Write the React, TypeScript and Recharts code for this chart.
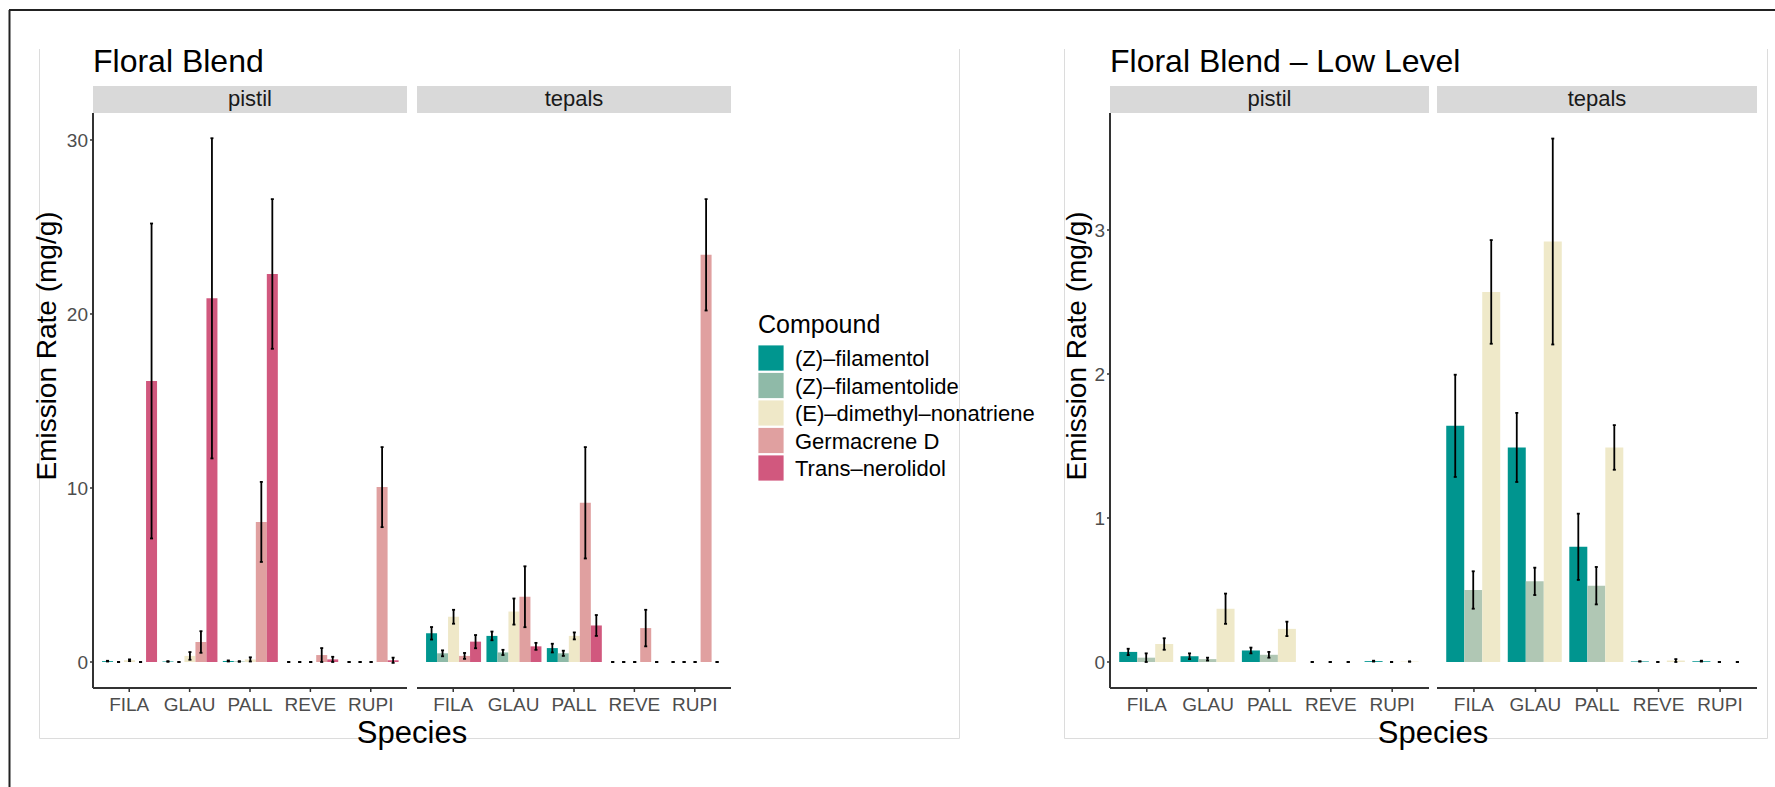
import { BarChart, Bar, XAxis, YAxis, ErrorBar } from 'recharts';

const SPECIES = ['FILA', 'GLAU', 'PALL', 'REVE', 'RUPI'];
const COMPOUNDS = [
  '(Z)–filamentol',
  '(Z)–filamentolide',
  '(E)–dimethyl–nonatriene',
  'Germacrene D',
  'Trans–nerolidol',
];
const BLEND_COLORS = ['#00968f', '#8fbaa8', '#efe8c8', '#e0a0a0', '#d1587e'];
const LOW_COLORS = ['#00958f', '#b0c7b4', '#efe9c9'];

// rows = compound, columns = species (FILA, GLAU, PALL, REVE, RUPI)
const blendPistilMean = [
  [0.05, 0.03, 0.06, 0, 0],
  [0, 0, 0.03, 0, 0],
  [0.1, 0.35, 0.15, 0, 0],
  [0, 1.15, 8.05, 0.4, 10.05],
  [16.15, 20.9, 22.3, 0.15, 0.1],
];
const blendPistilSe = [
  [0.02, 0.02, 0.03, 0, 0],
  [0, 0, 0.02, 0, 0],
  [0.05, 0.22, 0.12, 0, 0],
  [0, 0.62, 2.3, 0.4, 2.3],
  [9.05, 9.2, 4.3, 0.15, 0.15],
];
const blendTepalsMean = [
  [1.65, 1.5, 0.8, 0, 0],
  [0.5, 0.55, 0.5, 0, 0],
  [2.6, 2.9, 1.5, 0, 0],
  [0.35, 3.75, 9.15, 1.95, 23.4],
  [1.17, 0.9, 2.1, 0, 0],
];
const blendTepalsSe = [
  [0.36, 0.25, 0.25, 0, 0],
  [0.17, 0.15, 0.15, 0, 0],
  [0.4, 0.75, 0.2, 0, 0],
  [0.17, 1.75, 3.2, 1.05, 3.2],
  [0.38, 0.2, 0.6, 0, 0],
];
const lowPistilMean = [
  [0.07, 0.04, 0.08, 0, 0.006],
  [0.03, 0.02, 0.05, 0, 0],
  [0.125, 0.37, 0.23, 0, 0.003],
];
const lowPistilSe = [
  [0.022, 0.02, 0.02, 0, 0.003],
  [0.03, 0.01, 0.02, 0, 0],
  [0.04, 0.105, 0.05, 0, 0],
];
const lowTepalsMean = [
  [1.64, 1.49, 0.8, 0.004, 0.006],
  [0.5, 0.56, 0.53, 0, 0],
  [2.57, 2.92, 1.49, 0.01, 0],
];
const lowTepalsSe = [
  [0.355, 0.24, 0.23, 0, 0.003],
  [0.13, 0.095, 0.13, 0, 0],
  [0.36, 0.715, 0.155, 0.01, 0],
];

const blendTicks = [0, 10, 20, 30];
const lowTicks = [0, 1, 2, 3];
const blendDomain = [-1.494, 31.55];
const lowDomain = [-0.1806, 3.8125];

const FONT = '"Liberation Sans", Arial, Helvetica, sans-serif';
const PLOT_TOP = 113;
const PLOT_H = 575;
const XAXIS_H = 44;
const YAXIS_W = 50;
const AXIS = '#333333';

type FacetProps = {
  x: number;
  width: number;
  mean: number[][];
  se: number[][];
  colors: string[];
  domain: number[];
  ticks: number[];
  showY: boolean;
};

const Facet = ({ x, width, mean, se, colors, domain, ticks, showY }: FacetProps) => {
  // recharts drops the error bar of an exact 0 bar, so nudge it by a hair
  // (invisible) to keep the little zero-SE cap that ggplot draws
  const rows = SPECIES.map((sp, i) => {
    const r: any = { species: sp };
    mean.forEach((m, k) => {
      r['v' + k] = m[i] === 0 ? 1e-9 : m[i];
      r['e' + k] = [se[k][i], se[k][i]];
    });
    return r;
  });
  const yw = showY ? YAXIS_W : 0;
  const pad = width / 52; // ggplot discrete expansion (0.6 units each side)

  return (
    <div style={{ position: 'absolute', left: x - yw, top: PLOT_TOP }}>
      <BarChart
        width={width + yw}
        height={PLOT_H + XAXIS_H}
        data={rows}
        margin={{ top: 0, right: 0, bottom: 0, left: 0 }}
        barCategoryGap="5%"
        barGap={0}
      >
        <XAxis
          dataKey="species"
          height={XAXIS_H}
          interval={0}
          padding={{ left: pad, right: pad }}
          axisLine={{ stroke: AXIS, strokeWidth: 2 }}
          tickLine={{ stroke: AXIS, strokeWidth: 1.5 }}
          tickSize={4}
          tickMargin={6}
          tick={{ fill: '#4d4d4d', fontSize: 19, fontFamily: FONT }}
        />
        <YAxis
          hide={!showY}
          width={YAXIS_W}
          type="number"
          domain={domain}
          allowDataOverflow
          ticks={ticks}
          axisLine={{ stroke: AXIS, strokeWidth: 2 }}
          tickLine={{ stroke: AXIS, strokeWidth: 1.5 }}
          tickSize={3}
          tickMargin={2}
          tick={{ fill: '#4d4d4d', fontSize: 19, fontFamily: FONT }}
        />
        {mean.map((_, k) => (
          <Bar key={k} dataKey={'v' + k} fill={colors[k]} isAnimationActive={false}>
            <ErrorBar dataKey={'e' + k} width={1.5} strokeWidth={1.8} stroke="#000" />
          </Bar>
        ))}
      </BarChart>
    </div>
  );
};

const Strip = ({ x, width, label }: { x: number; width: number; label: string }) => (
  <g>
    <rect x={x} y={86} width={width} height={27} fill="#d9d9d9" />
    <text x={x + width / 2} y={106} textAnchor="middle" fontSize={22} fill="#1a1a1a">
      {label}
    </text>
  </g>
);

export default function App() {
  return (
    <div
      style={{
        position: 'absolute',
        left: 0,
        top: 0,
        width: 1775,
        height: 787,
        background: '#fff',
        fontFamily: FONT,
        overflow: 'hidden',
      }}
    >
      <svg width={1775} height={787} style={{ position: 'absolute', left: 0, top: 0 }} fontFamily={FONT}>
        {/* outer frame */}
        <line x1={9} y1={10} x2={1775} y2={10} stroke="#222" strokeWidth={2} />
        <line x1={9.5} y1={10} x2={9.5} y2={787} stroke="#222" strokeWidth={2} />
        {/* panel borders */}
        <polyline points="39.5,49 39.5,738.5 959.5,738.5 959.5,49" fill="none" stroke="#dcdcdc" strokeWidth={1} />
        <polyline points="1064.5,49 1064.5,738.5 1767.5,738.5 1767.5,49" fill="none" stroke="#dcdcdc" strokeWidth={1} />

        <text x={93} y={72} fontSize={32} fill="#000">Floral Blend</text>
        <text x={1110} y={72} fontSize={32} fill="#000">Floral Blend – Low Level</text>

        <Strip x={93} width={314} label="pistil" />
        <Strip x={417} width={314} label="tepals" />
        <Strip x={1110} width={319} label="pistil" />
        <Strip x={1437} width={320} label="tepals" />

        <text transform="translate(56,346) rotate(-90)" textAnchor="middle" fontSize={28} fill="#000">
          Emission Rate (mg/g)
        </text>
        <text transform="translate(1086,346) rotate(-90)" textAnchor="middle" fontSize={28} fill="#000">
          Emission Rate (mg/g)
        </text>
        <text x={412} y={743} textAnchor="middle" fontSize={31} fill="#000">Species</text>
        <text x={1433} y={743} textAnchor="middle" fontSize={31} fill="#000">Species</text>

        {/* legend */}
        <text x={758} y={333} fontSize={25} fill="#000">Compound</text>
        {COMPOUNDS.map((c, k) => (
          <g key={c}>
            <rect x={758} y={345 + k * 27.5} width={26} height={26} fill={BLEND_COLORS[k]} stroke="#fff" strokeWidth={0.8} />
            <text x={795} y={366 + k * 27.5} fontSize={22} fill="#000">{c}</text>
          </g>
        ))}
      </svg>

      <Facet x={93} width={314} mean={blendPistilMean} se={blendPistilSe} colors={BLEND_COLORS} domain={blendDomain} ticks={blendTicks} showY />
      <Facet x={417} width={314} mean={blendTepalsMean} se={blendTepalsSe} colors={BLEND_COLORS} domain={blendDomain} ticks={blendTicks} showY={false} />
      <Facet x={1110} width={319} mean={lowPistilMean} se={lowPistilSe} colors={LOW_COLORS} domain={lowDomain} ticks={lowTicks} showY />
      <Facet x={1437} width={320} mean={lowTepalsMean} se={lowTepalsSe} colors={LOW_COLORS} domain={lowDomain} ticks={lowTicks} showY={false} />
    </div>
  );
}
